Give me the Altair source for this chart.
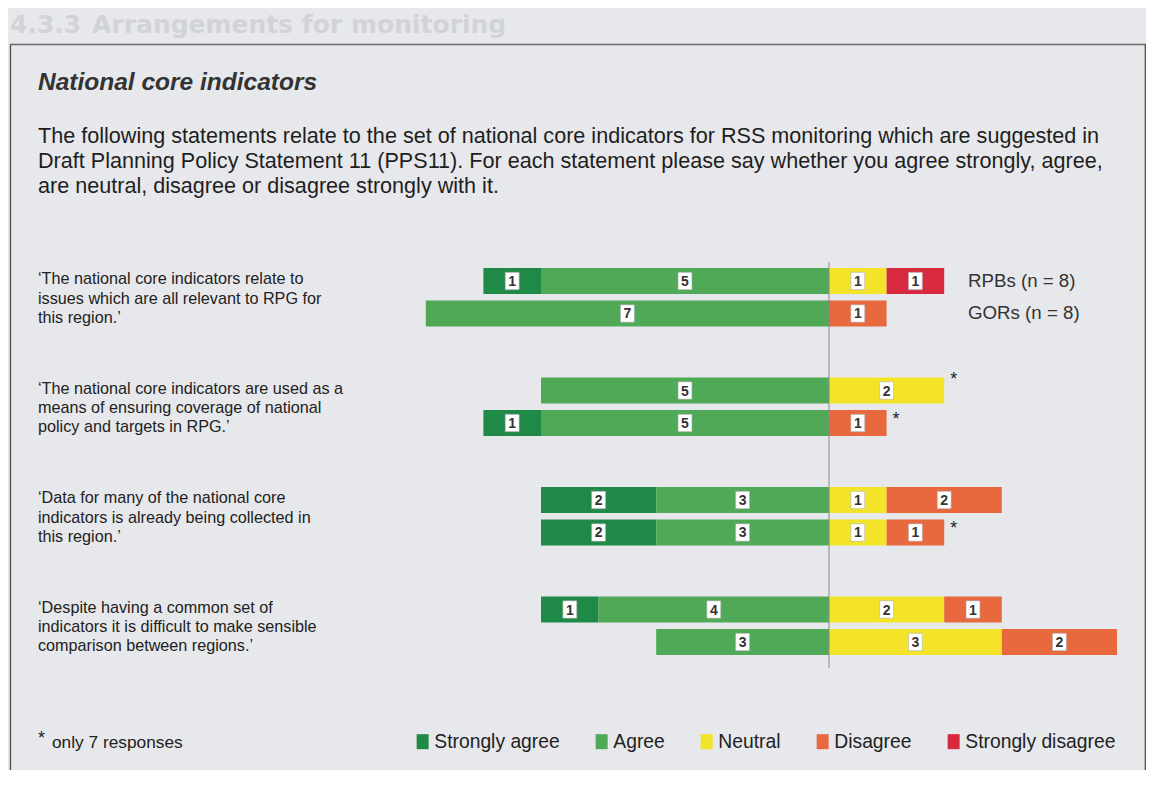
import altair as alt
import pandas as pd

# ---------------- data ----------------
categories = ["Strongly agree", "Agree", "Neutral", "Disagree", "Strongly disagree"]
cat_colors = ["#1f8a47", "#4fa957", "#f3e42a", "#e7693d", "#d82a3e"]

statement_keys = ["S1", "S2", "S3", "S4"]
statement_texts = [
    "\u2018The national core indicators relate to\nissues which are all relevant to RPG for\nthis region.\u2019",
    "\u2018The national core indicators are used as a\nmeans of ensuring coverage of national\npolicy and targets in RPG.\u2019",
    "\u2018Data for many of the national core\nindicators is already being collected in\nthis region.\u2019",
    "\u2018Despite having a common set of\nindicators it is difficult to make sensible\ncomparison between regions.\u2019",
]

groups = ["RPBs", "GORs"]
group_labels = ["RPBs (n = 8)", "GORs (n = 8)"]

# counts per statement: [Strongly agree, Agree, Neutral, Disagree, Strongly disagree]
rpb_counts = [[1, 5, 1, 0, 1], [0, 5, 2, 0, 0], [2, 3, 1, 2, 0], [1, 4, 2, 1, 0]]
gor_counts = [[0, 7, 0, 1, 0], [1, 5, 0, 1, 0], [2, 3, 1, 1, 0], [0, 3, 3, 2, 0]]
only_seven = [[False, False], [True, True], [False, True], [False, False]]

heading = ["4.3.3", "Arrangements for monitoring"]
box_title = "National core indicators"
intro_lines = [
    "The following statements relate to the set of national core indicators for RSS monitoring which are suggested in",
    "Draft Planning Policy Statement 11 (PPS11). For each statement please say whether you agree strongly, agree,",
    "are neutral, disagree or disagree strongly with it.",
]
footnote = ["*", "only 7 responses"]

# ---------------- tables ----------------
seg_rows, star_rows = [], []
for si, key in enumerate(statement_keys):
    for gi, (g, counts) in enumerate(zip(groups, [rpb_counts[si], gor_counts[si]])):
        sa, a, n, d, sd = counts
        spans = [
            ("Strongly agree", -(sa + a), -a, sa),
            ("Agree", -a, 0, a),
            ("Neutral", 0, n, n),
            ("Disagree", n, n + d, d),
            ("Strongly disagree", n + d, n + d + sd, sd),
        ]
        for cat, x0, x1, v in spans:
            if v > 0:
                seg_rows.append(dict(stmt=key, grp=g, cat=cat, x0=x0, x1=x1,
                                     mid=(x0 + x1) / 2, n=v))
        if only_seven[si][gi]:
            star_rows.append(dict(stmt=key, grp=g, xend=n + d + sd))

seg = pd.DataFrame(seg_rows)
stars = pd.DataFrame(star_rows)
stmt_df = pd.DataFrame(dict(stmt=statement_keys, text=statement_texts))
grp_df = pd.DataFrame(dict(stmt=[statement_keys[0]] * 2, grp=groups, label=group_labels))
one = pd.DataFrame({"k": [0]})

FONT = "Liberation Sans"
W, H = 1138, 762

xscale = alt.Scale(domain=[-14.2535, 5.5035], nice=False, zero=False)
yscale = alt.Scale(domain=statement_keys, range=[256.75, 650.25], paddingInner=0.4064, paddingOuter=0)
yoff = alt.Scale(domain=groups, paddingInner=0.2, paddingOuter=0.1)

X = lambda f: alt.X(f, scale=xscale, axis=None)
Y = alt.Y("stmt:N", scale=yscale, axis=None)
YO = alt.YOffset("grp:N", scale=yoff)

bars = alt.Chart(seg).mark_bar(cornerRadius=0).encode(
    x=X("x0:Q"), x2="x1:Q", y=Y, yOffset=YO,
    color=alt.Color("cat:N", scale=alt.Scale(domain=categories, range=cat_colors),
                    legend=alt.Legend(orient="none", legendX=405, legendY=724,
                                      direction="horizontal", columns=5, title=None,
                                      symbolType="M-0.8,-1L0.8,-1L0.8,1L-0.8,1Z",
                                      symbolSize=225, symbolStrokeWidth=0,
                                      symbolOpacity=1, labelFontSize=19.3,
                                      labelColor="#222", labelFont=FONT,
                                      labelOffset=2, columnPadding=32,
                                      labelLimit=300)),
)

boxes = alt.Chart(seg).mark_point(
    shape="M-0.8,-1L0.8,-1L0.8,1L-0.8,1Z", size=300, filled=True,
    fill="white", stroke="#b0b0b0", strokeWidth=0.6, opacity=1,
).encode(x=X("mid:Q"), y=Y, yOffset=YO)

nums = alt.Chart(seg).mark_text(font=FONT, fontSize=14, fontWeight="bold", color="#333",
                                baseline="middle", dy=1).encode(
    x=X("mid:Q"), y=Y, yOffset=YO, text="n:Q")

star_rpb = alt.Chart(stars).transform_filter(alt.datum.grp == "RPBs").mark_text(
    text="*", font=FONT, fontSize=18, color="#222", align="left", baseline="middle",
    dx=6, dy=-11).encode(x=X("xend:Q"), y=Y, yOffset=YO)
star_gor = alt.Chart(stars).transform_filter(alt.datum.grp == "GORs").mark_text(
    text="*", font=FONT, fontSize=18, color="#222", align="left", baseline="middle",
    dx=6, dy=-3).encode(x=X("xend:Q"), y=Y, yOffset=YO)

center = alt.Chart(one).mark_rule(color="#8a8a8a", strokeWidth=1).encode(
    x=alt.X(datum=0, scale=xscale, axis=None),
    y=alt.value(254), y2=alt.value(660))

series_lbl = alt.Chart(grp_df).mark_text(font=FONT, fontSize=18.7, color="#333",
                                         align="left", baseline="middle").encode(
    x=alt.value(960), y=Y, yOffset=YO, text="label:N")

stmt_lbl = alt.Chart(stmt_df).mark_text(font=FONT, fontSize=16.2, color="#222", align="left",
                                        baseline="middle", lineBreak="\n", lineHeight=19.3,
                                        dy=-18).encode(
    x=alt.value(30), y=Y, text="text:N")

def txt(s, x, y, **kw):
    kw.setdefault("font", FONT)
    return alt.Chart(one).mark_text(text=s, align="left", baseline="middle", **kw).encode(
        x=alt.value(x), y=alt.value(y))

head1 = txt(heading[0], 2, 17, fontSize=25, fontWeight="bold", color="#d2d3d6", font="DejaVu Sans")
head2 = txt(heading[1], 84, 17, fontSize=25, fontWeight="bold", color="#d2d3d6", font="DejaVu Sans")
title_t = txt(box_title, 30, 75, fontSize=24.5, fontWeight="bold", fontStyle="italic", color="#333")
intro = [txt(line, 30, 129 + 25 * i, fontSize=21.6, color="#1e1e1e") for i, line in enumerate(intro_lines)]
foot1 = txt(footnote[0], 30, 731, fontSize=18, color="#222")
foot2 = txt(footnote[1], 44, 735, fontSize=17.3, color="#222")

border_left = alt.Chart(one).mark_rule(color="#505050", strokeWidth=1.3).encode(
    x=alt.value(2.5), y=alt.value(36), y2=alt.value(H))
border_top = alt.Chart(one).mark_rule(color="#6a6a6a", strokeWidth=1.6).encode(
    x=alt.value(2), x2=alt.value(1137.5), y=alt.value(36.5))
border_right = alt.Chart(one).mark_rule(color="#505050", strokeWidth=1.3).encode(
    x=alt.value(1137.3), y=alt.value(36), y2=alt.value(H))

chart = alt.layer(
    head1, head2, border_left, border_top, border_right,
    title_t, *intro, stmt_lbl,
    bars, center, boxes, nums, star_rpb, star_gor, series_lbl, foot1, foot2,
).properties(
    width=W, height=H, autosize=alt.AutoSizeParams(type="none"), padding=0,
    background="#e7e8eb",
).configure_view(stroke=None)

chart.save("out.html", embed_options={"renderer": "svg", "actions": False})
